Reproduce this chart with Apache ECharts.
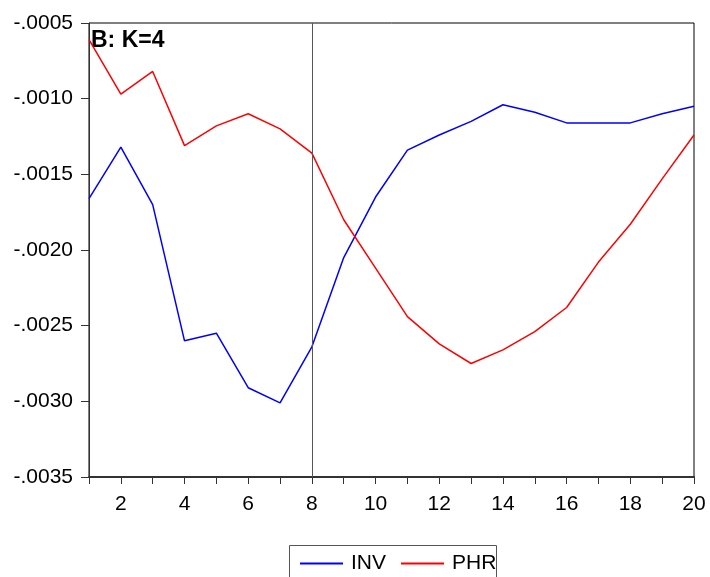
<!DOCTYPE html>
<html>
<head>
<meta charset="utf-8">
<script src="https://cdn.jsdelivr.net/npm/echarts@6/dist/echarts.min.js"></script>
<style>
  html, body { margin: 0; padding: 0; background: #fff; }
  #main { width: 710px; height: 577px; }
</style>
</head>
<body>
<div id="main"></div>
<script>
// horizon 1..20
var periods = [1, 2, 3, 4, 5, 6, 7, 8, 9, 10, 11, 12, 13, 14, 15, 16, 17, 18, 19, 20];
var inv = [-0.00166, -0.00132, -0.00170, -0.00260, -0.00255, -0.00291, -0.00301, -0.00264, -0.00205, -0.00165,
           -0.00134, -0.00124, -0.00115, -0.00104, -0.00109, -0.00116, -0.00116, -0.00116, -0.00110, -0.00105];
var phr = [-0.00061, -0.00097, -0.00082, -0.00131, -0.00118, -0.00110, -0.00120, -0.00136, -0.00180, -0.00212,
           -0.00244, -0.00262, -0.00275, -0.00266, -0.00254, -0.00238, -0.00208, -0.00183, -0.00153, -0.00124];
var shockLine = 8;
var titleText = 'B: K=4';

function pairs(vals) {
  var out = [];
  for (var i = 0; i < periods.length; i++) out.push([periods[i], vals[i]]);
  return out;
}

var font = 'Arial, "Liberation Sans", sans-serif';
var chart = echarts.init(document.getElementById('main'), null, { renderer: 'canvas' });

var option = {
  animation: false,
  backgroundColor: '#fff',
  grid: { left: 89, right: 16, top: 23, bottom: 100, show: true, borderColor: '#000', borderWidth: 1 },
  xAxis: {
    type: 'value', min: 1, max: 20, interval: 1,
    axisLine: { onZero: false, lineStyle: { color: '#333', width: 2 } },
    axisTick: { show: true, inside: false, length: 7, lineStyle: { color: '#333' } },
    axisLabel: {
      margin: 17, color: '#000', fontSize: 21, fontFamily: font,
      formatter: function (v) { return v % 2 === 0 ? String(v) : ''; }
    },
    splitLine: { show: false }
  },
  yAxis: {
    type: 'value', min: -0.0035, max: -0.0005, interval: 0.0005,
    axisLine: { show: true, onZero: false, lineStyle: { color: '#333', width: 1 } },
    axisTick: { show: true, inside: false, length: 8, lineStyle: { color: '#333' } },
    axisLabel: {
      margin: 16, color: '#000', fontSize: 21, fontFamily: font,
      formatter: function (v) { return v.toFixed(4).replace('0.', '.'); }
    },
    splitLine: { show: false }
  },
  legend: {
    left: 295, top: 548, itemWidth: 43, itemHeight: 2, itemGap: 15,
    icon: 'rect',
    textStyle: { color: '#000', fontSize: 21, fontFamily: font, padding: [0, 0, 0, 3] },
    data: ['INV', 'PHR']
  },
  graphic: [
    { type: 'rect', left: 287, top: 543, shape: { width: 207, height: 40 },
      style: { fill: 'none', stroke: '#555', lineWidth: 1 } },
    { type: 'text', left: 91, top: 29,
      style: { text: titleText, fill: '#000', font: 'bold 23px ' + font } }
  ],
  series: [
    {
      name: 'INV', type: 'line', data: pairs(inv), symbol: 'none',
      lineStyle: { color: '#0000ff', width: 1.5 }, itemStyle: { color: '#0000ff' },
      markLine: {
        silent: true, symbol: 'none', label: { show: false },
        lineStyle: { color: '#555', width: 1, type: 'solid' },
        data: [{ xAxis: shockLine }]
      }
    },
    {
      name: 'PHR', type: 'line', data: pairs(phr), symbol: 'none',
      lineStyle: { color: '#ff0000', width: 1.5 }, itemStyle: { color: '#ff0000' }
    }
  ]
};

chart.setOption(option);
</script>
</body>
</html>
